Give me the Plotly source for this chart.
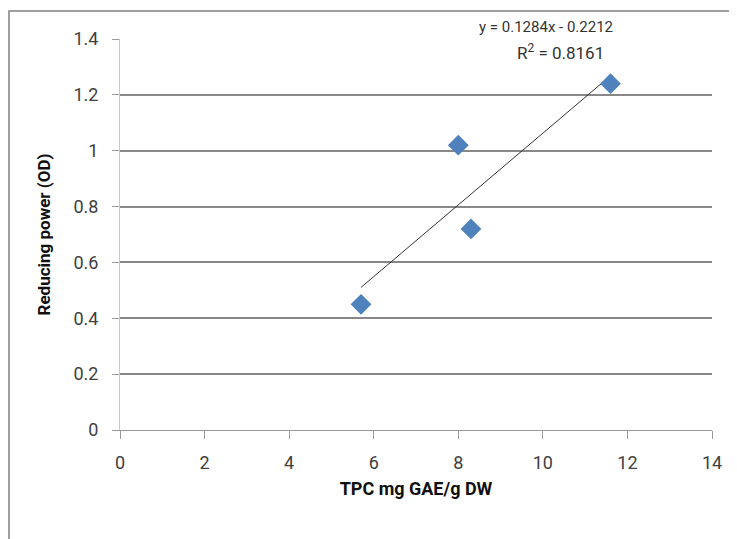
import plotly.graph_objects as go

tpc = [5.7, 8.0, 8.3, 11.6]
reducing_power = [0.45, 1.02, 0.72, 1.24]
slope = 0.1284
intercept = -0.2212
r2 = 0.8161
x_ticks = [0, 2, 4, 6, 8, 10, 12, 14]
y_ticks = [0, 0.2, 0.4, 0.6, 0.8, 1.0, 1.2, 1.4]
y_tick_labels = ["0", "0.2", "0.4", "0.6", "0.8", "1", "1.2", "1.4"]

trend_x = [min(tpc), max(tpc)]
trend_y = [slope * v + intercept for v in trend_x]

FONT = "Roboto, sans-serif"

# the page body adds an 8px offset, so figure coords = screen coords - 8
OFF = 8
W, H = 737 - OFF, 539 - OFF
L, T = 120 - OFF, 39 - OFF
R = W - (712 - OFF)
B = H - (430 - OFF)
PW, PH = W - L - R, H - T - B


def px(x):
    return (x - OFF - L) / PW


def py(y):
    return (H - B - (y - OFF)) / PH


fig = go.Figure()
fig.add_trace(go.Scatter(x=trend_x, y=trend_y, mode="lines",
                         line=dict(color="#333333", width=1), showlegend=False))
fig.add_trace(go.Scatter(x=tpc, y=reducing_power, mode="markers",
                         marker=dict(symbol="diamond", size=16, color="#4F81BD",
                                     line=dict(width=0)), showlegend=False))

fig.add_annotation(xref="paper", yref="paper", x=px(546), y=py(27),
                   xanchor="center", yanchor="middle",
                   text=f"y = {slope}x - {abs(intercept)}", showarrow=False,
                   font=dict(family=FONT, size=15, color="#333333"))
fig.add_annotation(xref="paper", yref="paper", x=px(560), y=py(52),
                   xanchor="center", yanchor="middle",
                   text=f"R<sup>2</sup> = {r2}", showarrow=False,
                   font=dict(family=FONT, size=17, color="#333333"))

# outer chart frame
fig.add_shape(type="rect", xref="paper", yref="paper",
              x0=px(9), x1=px(760), y0=py(560), y1=py(11),
              line=dict(color="#808080", width=1.5), layer="below")

fig.update_xaxes(range=[0, 14], tickvals=x_ticks, showgrid=False,
                 showline=True, linecolor="#9a9a9a", linewidth=1,
                 ticks="outside", ticklen=8, tickcolor="#9a9a9a",
                 ticklabelstandoff=8,
                 tickfont=dict(family=FONT, size=18, color="#404040"),
                 title=dict(text="<b>TPC mg GAE/g DW</b>", standoff=10,
                            font=dict(family=FONT, size=18, color="#111111")),
                 zeroline=False, automargin=False)
fig.update_yaxes(range=[0, 1.4], tickvals=y_ticks, ticktext=y_tick_labels,
                 showgrid=True, gridcolor="#888888", gridwidth=1.5,
                 showline=True, linecolor="#c8c8c8", linewidth=1,
                 ticks="outside", ticklen=7, tickcolor="#9a9a9a",
                 ticklabelstandoff=10,
                 tickfont=dict(family=FONT, size=18, color="#404040"),
                 title=dict(text="<b>Reducing power (OD)</b>", standoff=18,
                            font=dict(family=FONT, size=17, color="#111111")),
                 zeroline=False, automargin=False)

fig.update_layout(width=W, height=H,
                  margin=dict(l=L, r=R, t=T, b=B, autoexpand=False),
                  plot_bgcolor="white", paper_bgcolor="white")

fig.write_html("out.html")
